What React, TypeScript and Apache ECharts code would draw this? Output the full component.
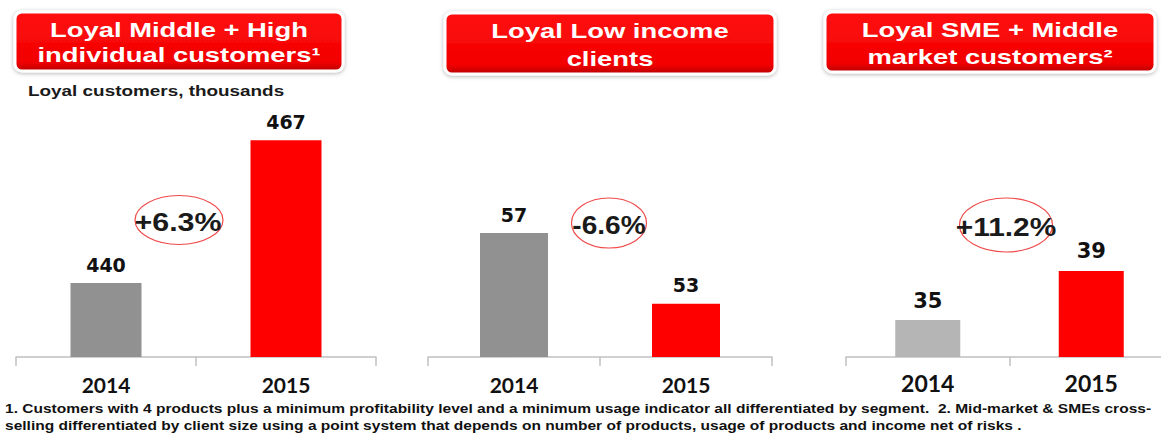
import React, { useEffect, useRef } from "react";
import * as echarts from "echarts";

const categories = ["2014", "2015"];
const middleHighValues = [440, 467];
const lowIncomeValues = [57, 53];
const smeValues = [35, 39];
const growthLabels = ["+6.3%", "-6.6%", "+11.2%"];
const panelTitles = [
  ["Loyal Middle + High", "individual customers\u00b9"],
  ["Loyal Low income", "clients"],
  ["Loyal SME + Middle", "market customers\u00b2"],
];
const subtitle = "Loyal customers, thousands";
const footnoteLines = [
  "1. Customers with 4 products plus a minimum profitability level and a minimum usage indicator all differentiated by segment.  2. Mid-market & SMEs cross-",
  "selling differentiated by client size using a point system that depends on number of products, usage of products and income net of risks .",
];

const seriesValues = [middleHighValues, lowIncomeValues, smeValues];
const barColors = [
  ["#919191", "#ff0000"],
  ["#919191", "#ff0000"],
  ["#b5b5b5", "#ff0000"],
];

// layout (pixels); the canvas is a bit wider than the window so the last axis runs off the edge
const canvasWidth = 1176;
const grids = [
  { left: 16, width: 360, top: 98, bottom: 77 },
  { left: 428, width: 344, top: 109, bottom: 77 },
  { left: 846, width: 327, top: 111, bottom: 77 },
];
const yRanges = [
  { min: 426, max: 475 },
  { min: 50, max: 64 },
  { min: 32, max: 52 },
];
const barWidths = [71, 68, 65];
const valueFont = [19, 19, 21];
const axisFont = [21, 21, 23];
const axisMargin = [17, 17, 14];

const headerBoxes = [
  { x: 15, y: 12, w: 328, h: 59, cx: 179, l1: 30, l2: 55 },
  { x: 445, y: 13, w: 330, h: 61, cx: 610, l1: 31, l2: 59 },
  { x: 825, y: 12, w: 330, h: 60, cx: 990, l1: 30, l2: 57 },
];
const ellipses = [
  { cx: 179, cy: 220, rx: 44, ry: 24.5, tx: 178, ty: 222, sx: 1.17 },
  { cx: 609, cy: 223, rx: 37.5, ry: 25, tx: 609, ty: 225, sx: 1.08 },
  { cx: 1006, cy: 225, rx: 46.5, ry: 27, tx: 1006, ty: 227, sx: 1.15 },
];

function stretchedText(text: string, x: number, y: number, size: number, sx: number, align: string, fill: string, z = 10) {
  return {
    type: "text",
    x,
    y,
    scaleX: sx,
    z,
    style: {
      text,
      x: 0,
      y: 0,
      fill,
      fontSize: size,
      fontWeight: "bold",
      fontFamily: '"Liberation Sans", Arial, sans-serif',
      align,
      verticalAlign: "middle",
      textAlign: align,
      textVerticalAlign: "middle",
    },
  };
}

export default function App() {
  const ref = useRef<HTMLDivElement>(null);

  useEffect(() => {
    if (!ref.current) return;
    const chart = echarts.init(ref.current, undefined, { renderer: "svg" });

    const graphic: any[] = [];
    headerBoxes.forEach((b, i) => {
      graphic.push({
        type: "rect",
        x: b.x,
        y: b.y,
        z: 5,
        shape: { x: 0, y: 0, width: b.w, height: b.h, r: 7 },
        style: {
          fill: new echarts.graphic.LinearGradient(0, 0, 0, 1, [
            { offset: 0, color: "#ff1010" },
            { offset: 0.85, color: "#f20000" },
            { offset: 1, color: "#b80000" },
          ]),
          stroke: "#ffffff",
          lineWidth: 3,
          shadowBlur: 4,
          shadowColor: "rgba(0,0,0,0.3)",
          shadowOffsetY: 1,
        },
      });
      graphic.push(stretchedText(panelTitles[i][0], b.cx, b.l1, 20, 1.37, "center", "#ffffff"));
      graphic.push(stretchedText(panelTitles[i][1], b.cx, b.l2, 20, 1.37, "center", "#ffffff"));
    });
    graphic.push(stretchedText(subtitle, 28, 91, 14, 1.35, "left", "#1a1a1a"));
    ellipses.forEach((e, i) => {
      graphic.push({
        type: "ellipse",
        z: 8,
        shape: { cx: e.cx, cy: e.cy, rx: e.rx, ry: e.ry },
        style: { fill: "none", stroke: "#f04a4a", lineWidth: 1.2 },
      });
      graphic.push(stretchedText(growthLabels[i], e.tx, e.ty, 26, e.sx, "center", "#1a1a1a", 9));
    });
    graphic.push(stretchedText(footnoteLines[0], 5, 409, 12, 1.295, "left", "#111111"));
    graphic.push(stretchedText(footnoteLines[1], 5, 426, 12, 1.295, "left", "#111111"));

    const option: any = {
      animation: false,
      backgroundColor: "#ffffff",
      grid: grids.map((g) => ({ left: g.left, width: g.width, top: g.top, bottom: g.bottom, containLabel: false })),
      xAxis: grids.map((_, i) => ({
        type: "category",
        gridIndex: i,
        data: categories,
        axisLine: { show: true, lineStyle: { color: "#c0c0c0", width: 1.5 } },
        axisTick: { show: true, length: 9, lineStyle: { color: "#c0c0c0", width: 1.5 } },
        axisLabel: {
          color: "#111111",
          fontSize: axisFont[i],
          fontWeight: "bold",
          fontFamily: "Lato, sans-serif",
          margin: axisMargin[i],
        },
      })),
      yAxis: grids.map((_, i) => ({
        type: "value",
        gridIndex: i,
        min: yRanges[i].min,
        max: yRanges[i].max,
        show: false,
        splitLine: { show: false },
      })),
      series: seriesValues.map((vals, i) => ({
        type: "bar",
        xAxisIndex: i,
        yAxisIndex: i,
        barWidth: barWidths[i],
        data: vals.map((v, j) => ({ value: v, itemStyle: { color: barColors[i][j] } })),
        label: {
          show: true,
          position: "top",
          distance: 9,
          color: "#111111",
          fontSize: valueFont[i],
          fontWeight: "bold",
          fontFamily: '"DejaVu Sans", sans-serif',
        },
      })),
      graphic,
    };
    chart.setOption(option);
    return () => chart.dispose();
  }, []);

  return (
    <div style={{ position: "fixed", left: 0, top: 0, width: 1161, height: 434, overflow: "hidden", background: "#fff" }}>
      <div ref={ref} style={{ position: "absolute", left: 0, top: 0, width: canvasWidth, height: 434 }} />
    </div>
  );
}
